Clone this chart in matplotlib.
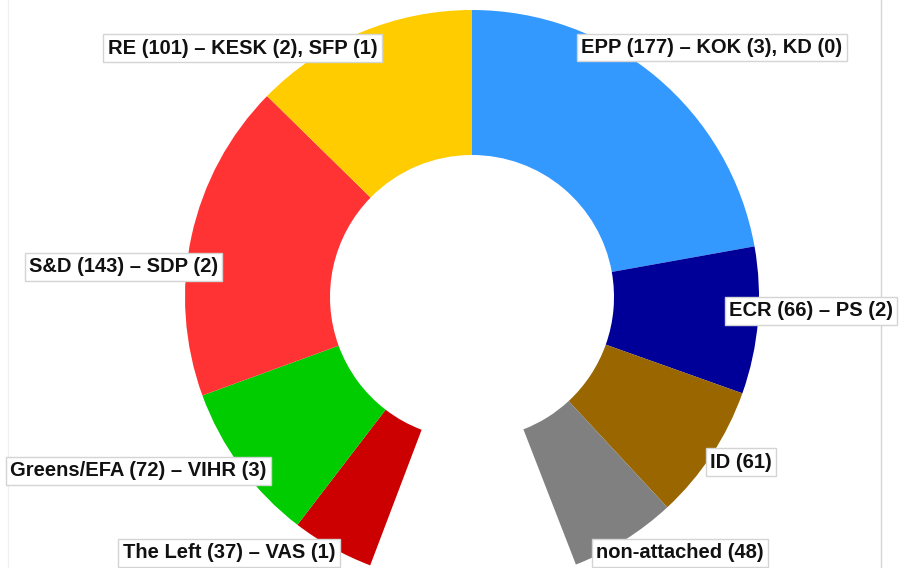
import matplotlib.pyplot as plt

# Seats per group, clockwise from the top
groups = ["EPP", "ECR", "ID", "non-attached", "The Left", "Greens/EFA", "S&D", "RE"]
seats = [177, 66, 61, 48, 37, 72, 143, 101]
colors = ["#3399ff", "#000099", "#996600", "#808080", "#cc0000", "#00cc00", "#ff3333", "#ffcc00"]
labels = [
    "EPP (177) – KOK (3), KD (0)",
    "ECR (66) – PS (2)",
    "ID (61)",
    "non-attached (48)",
    "The Left (37) – VAS (1)",
    "Greens/EFA (72) – VIHR (3)",
    "S&D (143) – SDP (2)",
    "RE (101) – KESK (2), SFP (1)",
]
# label box centres (pixels, from top-left)
label_pos = [(712, 47.5), (811, 311), (741, 462), (680, 553),
             (229, 553), (138.5, 471), (123.5, 267), (242.5, 48)]

W, H = 902, 568
cx, cy = 472, H - 297
r_out, r_in = 287, 142
gap_deg = 42

total = sum(seats)
gap = total * gap_deg / (360 - gap_deg)
vals = seats[:4] + [gap] + seats[4:]
cols = colors[:4] + ["none"] + colors[4:]

fig = plt.figure(figsize=(W / 100, H / 100), dpi=100)
ax = fig.add_axes([0, 0, 1, 1])

# faint frame lines behind everything
ax.axvline(8, color="#f0f0f0", lw=1, zorder=0)
ax.axvline(880.5, color="#d6d6d6", lw=1, zorder=0)

ax.pie(vals, colors=cols, startangle=90, counterclock=False,
       center=(cx, cy), radius=r_out,
       wedgeprops=dict(width=r_out - r_in, linewidth=0))
ax.set_xlim(0, W)
ax.set_ylim(0, H)
ax.axis("off")

for text, (x, y) in zip(labels, label_pos):
    ax.text(x, H - y, text, ha="center", va="center", zorder=5,
            fontsize=14.5, fontweight="bold", family="Liberation Sans", color="#111111",
            bbox=dict(boxstyle="square,pad=0.22", fc="white", ec="#d4d4d4", lw=1))

fig.savefig("out.png", dpi=100)
